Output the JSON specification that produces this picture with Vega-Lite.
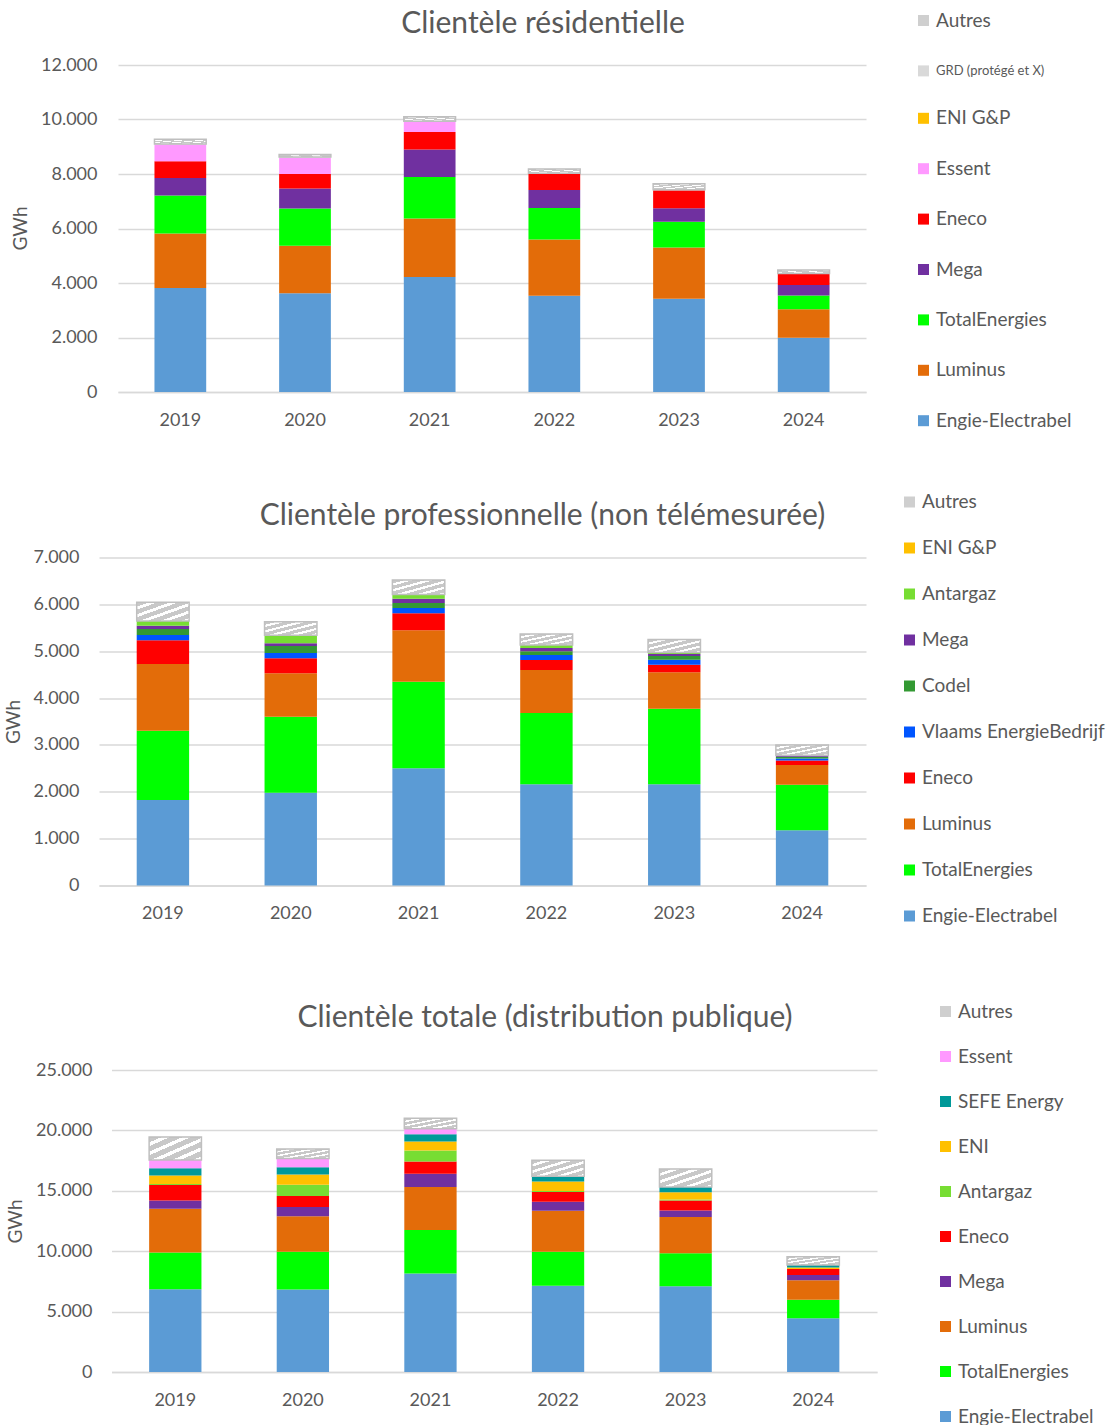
{
  "$schema": "https://vega.github.io/schema/vega-lite/v6.json",
  "padding": {"left": 4, "top": 8, "right": 5, "bottom": 0},
  "background": "white",
  "datasets": {
    "d": [
      {"c": 1, "an": "2019", "f": "Engie-Electrabel", "v": 3814},
      {"c": 1, "an": "2020", "f": "Engie-Electrabel", "v": 3620},
      {"c": 1, "an": "2021", "f": "Engie-Electrabel", "v": 4220},
      {"c": 1, "an": "2022", "f": "Engie-Electrabel", "v": 3530},
      {"c": 1, "an": "2023", "f": "Engie-Electrabel", "v": 3420},
      {"c": 1, "an": "2024", "f": "Engie-Electrabel", "v": 1990},
      {"c": 1, "an": "2019", "f": "Luminus", "v": 2000},
      {"c": 1, "an": "2020", "f": "Luminus", "v": 1750},
      {"c": 1, "an": "2021", "f": "Luminus", "v": 2150},
      {"c": 1, "an": "2022", "f": "Luminus", "v": 2070},
      {"c": 1, "an": "2023", "f": "Luminus", "v": 1880},
      {"c": 1, "an": "2024", "f": "Luminus", "v": 1050},
      {"c": 1, "an": "2019", "f": "TotalEnergies", "v": 1400},
      {"c": 1, "an": "2020", "f": "TotalEnergies", "v": 1360},
      {"c": 1, "an": "2021", "f": "TotalEnergies", "v": 1520},
      {"c": 1, "an": "2022", "f": "TotalEnergies", "v": 1150},
      {"c": 1, "an": "2023", "f": "TotalEnergies", "v": 950},
      {"c": 1, "an": "2024", "f": "TotalEnergies", "v": 500},
      {"c": 1, "an": "2019", "f": "Mega", "v": 640},
      {"c": 1, "an": "2020", "f": "Mega", "v": 740},
      {"c": 1, "an": "2021", "f": "Mega", "v": 1010},
      {"c": 1, "an": "2022", "f": "Mega", "v": 660},
      {"c": 1, "an": "2023", "f": "Mega", "v": 490},
      {"c": 1, "an": "2024", "f": "Mega", "v": 390},
      {"c": 1, "an": "2019", "f": "Eneco", "v": 610},
      {"c": 1, "an": "2020", "f": "Eneco", "v": 530},
      {"c": 1, "an": "2021", "f": "Eneco", "v": 640},
      {"c": 1, "an": "2022", "f": "Eneco", "v": 600},
      {"c": 1, "an": "2023", "f": "Eneco", "v": 660},
      {"c": 1, "an": "2024", "f": "Eneco", "v": 400},
      {"c": 1, "an": "2019", "f": "Essent", "v": 620},
      {"c": 1, "an": "2020", "f": "Essent", "v": 600},
      {"c": 1, "an": "2021", "f": "Essent", "v": 380},
      {"c": 1, "an": "2019", "f": "GRD (protégé et X)", "v": 20},
      {"c": 1, "an": "2020", "f": "GRD (protégé et X)", "v": 20},
      {"c": 1, "an": "2021", "f": "GRD (protégé et X)", "v": 20},
      {"c": 1, "an": "2022", "f": "GRD (protégé et X)", "v": 20},
      {"c": 1, "an": "2023", "f": "GRD (protégé et X)", "v": 20},
      {"c": 1, "an": "2024", "f": "GRD (protégé et X)", "v": 20},
      {"c": 1, "an": "2019", "f": "Autres", "v": 170},
      {"c": 1, "an": "2020", "f": "Autres", "v": 100},
      {"c": 1, "an": "2021", "f": "Autres", "v": 160},
      {"c": 1, "an": "2022", "f": "Autres", "v": 150},
      {"c": 1, "an": "2023", "f": "Autres", "v": 220},
      {"c": 1, "an": "2024", "f": "Autres", "v": 130},

      {"c": 2, "an": "2019", "f": "Engie-Electrabel", "v": 1825},
      {"c": 2, "an": "2020", "f": "Engie-Electrabel", "v": 1980},
      {"c": 2, "an": "2021", "f": "Engie-Electrabel", "v": 2500},
      {"c": 2, "an": "2022", "f": "Engie-Electrabel", "v": 2160},
      {"c": 2, "an": "2023", "f": "Engie-Electrabel", "v": 2160},
      {"c": 2, "an": "2024", "f": "Engie-Electrabel", "v": 1180},
      {"c": 2, "an": "2019", "f": "TotalEnergies", "v": 1480},
      {"c": 2, "an": "2020", "f": "TotalEnergies", "v": 1620},
      {"c": 2, "an": "2021", "f": "TotalEnergies", "v": 1850},
      {"c": 2, "an": "2022", "f": "TotalEnergies", "v": 1520},
      {"c": 2, "an": "2023", "f": "TotalEnergies", "v": 1610},
      {"c": 2, "an": "2024", "f": "TotalEnergies", "v": 970},
      {"c": 2, "an": "2019", "f": "Luminus", "v": 1420},
      {"c": 2, "an": "2020", "f": "Luminus", "v": 930},
      {"c": 2, "an": "2021", "f": "Luminus", "v": 1100},
      {"c": 2, "an": "2022", "f": "Luminus", "v": 920},
      {"c": 2, "an": "2023", "f": "Luminus", "v": 780},
      {"c": 2, "an": "2024", "f": "Luminus", "v": 420},
      {"c": 2, "an": "2019", "f": "Eneco", "v": 510},
      {"c": 2, "an": "2020", "f": "Eneco", "v": 320},
      {"c": 2, "an": "2021", "f": "Eneco", "v": 360},
      {"c": 2, "an": "2022", "f": "Eneco", "v": 210},
      {"c": 2, "an": "2023", "f": "Eneco", "v": 160},
      {"c": 2, "an": "2024", "f": "Eneco", "v": 100},
      {"c": 2, "an": "2019", "f": "Vlaams EnergieBedrijf", "v": 110},
      {"c": 2, "an": "2020", "f": "Vlaams EnergieBedrijf", "v": 110},
      {"c": 2, "an": "2021", "f": "Vlaams EnergieBedrijf", "v": 110},
      {"c": 2, "an": "2022", "f": "Vlaams EnergieBedrijf", "v": 110},
      {"c": 2, "an": "2023", "f": "Vlaams EnergieBedrijf", "v": 110},
      {"c": 2, "an": "2024", "f": "Vlaams EnergieBedrijf", "v": 40},
      {"c": 2, "an": "2019", "f": "Codel", "v": 130},
      {"c": 2, "an": "2020", "f": "Codel", "v": 150},
      {"c": 2, "an": "2021", "f": "Codel", "v": 110},
      {"c": 2, "an": "2022", "f": "Codel", "v": 80},
      {"c": 2, "an": "2023", "f": "Codel", "v": 80},
      {"c": 2, "an": "2024", "f": "Codel", "v": 40},
      {"c": 2, "an": "2019", "f": "Mega", "v": 70},
      {"c": 2, "an": "2020", "f": "Mega", "v": 60},
      {"c": 2, "an": "2021", "f": "Mega", "v": 90},
      {"c": 2, "an": "2022", "f": "Mega", "v": 70},
      {"c": 2, "an": "2023", "f": "Mega", "v": 40},
      {"c": 2, "an": "2024", "f": "Mega", "v": 30},
      {"c": 2, "an": "2019", "f": "Antargaz", "v": 100},
      {"c": 2, "an": "2020", "f": "Antargaz", "v": 170},
      {"c": 2, "an": "2021", "f": "Antargaz", "v": 90},
      {"c": 2, "an": "2022", "f": "Antargaz", "v": 60},
      {"c": 2, "an": "2023", "f": "Antargaz", "v": 30},
      {"c": 2, "an": "2019", "f": "Autres", "v": 400},
      {"c": 2, "an": "2020", "f": "Autres", "v": 290},
      {"c": 2, "an": "2021", "f": "Autres", "v": 310},
      {"c": 2, "an": "2022", "f": "Autres", "v": 240},
      {"c": 2, "an": "2023", "f": "Autres", "v": 280},
      {"c": 2, "an": "2024", "f": "Autres", "v": 220},

      {"c": 3, "an": "2019", "f": "Engie-Electrabel", "v": 6850},
      {"c": 3, "an": "2020", "f": "Engie-Electrabel", "v": 6820},
      {"c": 3, "an": "2021", "f": "Engie-Electrabel", "v": 8160},
      {"c": 3, "an": "2022", "f": "Engie-Electrabel", "v": 7130},
      {"c": 3, "an": "2023", "f": "Engie-Electrabel", "v": 7100},
      {"c": 3, "an": "2024", "f": "Engie-Electrabel", "v": 4440},
      {"c": 3, "an": "2019", "f": "TotalEnergies", "v": 3050},
      {"c": 3, "an": "2020", "f": "TotalEnergies", "v": 3140},
      {"c": 3, "an": "2021", "f": "TotalEnergies", "v": 3600},
      {"c": 3, "an": "2022", "f": "TotalEnergies", "v": 2830},
      {"c": 3, "an": "2023", "f": "TotalEnergies", "v": 2720},
      {"c": 3, "an": "2024", "f": "TotalEnergies", "v": 1550},
      {"c": 3, "an": "2019", "f": "Luminus", "v": 3610},
      {"c": 3, "an": "2020", "f": "Luminus", "v": 2940},
      {"c": 3, "an": "2021", "f": "Luminus", "v": 3550},
      {"c": 3, "an": "2022", "f": "Luminus", "v": 3380},
      {"c": 3, "an": "2023", "f": "Luminus", "v": 3020},
      {"c": 3, "an": "2024", "f": "Luminus", "v": 1610},
      {"c": 3, "an": "2019", "f": "Mega", "v": 690},
      {"c": 3, "an": "2020", "f": "Mega", "v": 750},
      {"c": 3, "an": "2021", "f": "Mega", "v": 1110},
      {"c": 3, "an": "2022", "f": "Mega", "v": 750},
      {"c": 3, "an": "2023", "f": "Mega", "v": 530},
      {"c": 3, "an": "2024", "f": "Mega", "v": 440},
      {"c": 3, "an": "2019", "f": "Eneco", "v": 1280},
      {"c": 3, "an": "2020", "f": "Eneco", "v": 910},
      {"c": 3, "an": "2021", "f": "Eneco", "v": 1000},
      {"c": 3, "an": "2022", "f": "Eneco", "v": 810},
      {"c": 3, "an": "2023", "f": "Eneco", "v": 830},
      {"c": 3, "an": "2024", "f": "Eneco", "v": 480},
      {"c": 3, "an": "2019", "f": "Antargaz", "v": 80},
      {"c": 3, "an": "2020", "f": "Antargaz", "v": 950},
      {"c": 3, "an": "2021", "f": "Antargaz", "v": 920},
      {"c": 3, "an": "2022", "f": "Antargaz", "v": 80},
      {"c": 3, "an": "2023", "f": "Antargaz", "v": 90},
      {"c": 3, "an": "2019", "f": "ENI", "v": 700},
      {"c": 3, "an": "2020", "f": "ENI", "v": 830},
      {"c": 3, "an": "2021", "f": "ENI", "v": 740},
      {"c": 3, "an": "2022", "f": "ENI", "v": 780},
      {"c": 3, "an": "2023", "f": "ENI", "v": 580},
      {"c": 3, "an": "2024", "f": "ENI", "v": 130},
      {"c": 3, "an": "2019", "f": "SEFE Energy", "v": 610},
      {"c": 3, "an": "2020", "f": "SEFE Energy", "v": 610},
      {"c": 3, "an": "2021", "f": "SEFE Energy", "v": 610},
      {"c": 3, "an": "2022", "f": "SEFE Energy", "v": 440},
      {"c": 3, "an": "2023", "f": "SEFE Energy", "v": 440},
      {"c": 3, "an": "2024", "f": "SEFE Energy", "v": 200},
      {"c": 3, "an": "2019", "f": "Essent", "v": 690},
      {"c": 3, "an": "2020", "f": "Essent", "v": 720},
      {"c": 3, "an": "2021", "f": "Essent", "v": 450},
      {"c": 3, "an": "2019", "f": "Autres", "v": 1890},
      {"c": 3, "an": "2020", "f": "Autres", "v": 800},
      {"c": 3, "an": "2021", "f": "Autres", "v": 860},
      {"c": 3, "an": "2022", "f": "Autres", "v": 1330},
      {"c": 3, "an": "2023", "f": "Autres", "v": 1500},
      {"c": 3, "an": "2024", "f": "Autres", "v": 690}
    ]
  },
  "spacing": 75,
  "resolve": {"scale": {"color": "independent", "x": "independent", "y": "independent"}, "legend": {"color": "independent"}},
  "vconcat": [
    {
      "spacing": 61.5,
      "resolve": {"scale": {"color": "independent", "x": "independent", "y": "independent"}, "legend": {"color": "independent"}},
      "vconcat": [
        {
          "title": {"text": "Clientèle résidentielle", "dx": 60, "offset": -27.5},
          "width": 768,
          "height": 327,
          "data": {"name": "d"},
          "transform": [
            {"filter": "datum.c == 1"},
            {"calculate": "indexof(['Autres', 'GRD (protégé et X)', 'ENI G&P', 'Essent', 'Eneco', 'Mega', 'TotalEnergies', 'Luminus', 'Engie-Electrabel'], datum.f)", "as": "rang"}
          ],
          "mark": {"type": "bar", "stroke": "#bfbfbf"},
          "encoding": {
            "x": {"field": "an", "type": "ordinal", "title": null,
              "scale": {"range": [19, 767], "paddingInner": 0.585, "paddingOuter": 0.2925}},
            "y": {"field": "v", "type": "quantitative", "stack": "zero",
              "scale": {"domain": [0, 12000]},
              "axis": {"values": [0, 2000, 4000, 6000, 8000, 10000, 12000], "format": ",.0f", "title": "GWh", "labelPadding": 2, "titleX": -79, "titleY": 163}},
            "color": {
              "condition": {"test": "datum.f === 'Autres'", "value": {"gradient": "linear", "x1": 0, "y1": 0, "x2": 1, "y2": 1, "stops": [
                {"offset": 0, "color": "#c8c8c8"}, {"offset": 0.12, "color": "#c8c8c8"}, {"offset": 0.12, "color": "#ffffff"}, {"offset": 0.2, "color": "#ffffff"},
                {"offset": 0.2, "color": "#c8c8c8"}, {"offset": 0.32, "color": "#c8c8c8"}, {"offset": 0.32, "color": "#ffffff"}, {"offset": 0.4, "color": "#ffffff"},
                {"offset": 0.4, "color": "#c8c8c8"}, {"offset": 0.52, "color": "#c8c8c8"}, {"offset": 0.52, "color": "#ffffff"}, {"offset": 0.6, "color": "#ffffff"},
                {"offset": 0.6, "color": "#c8c8c8"}, {"offset": 0.72, "color": "#c8c8c8"}, {"offset": 0.72, "color": "#ffffff"}, {"offset": 0.8, "color": "#ffffff"},
                {"offset": 0.8, "color": "#c8c8c8"}, {"offset": 0.92, "color": "#c8c8c8"}, {"offset": 0.92, "color": "#ffffff"}, {"offset": 1, "color": "#ffffff"}]}},
              "field": "f", "type": "nominal",
              "scale": {
                "domain": ["Autres", "GRD (protégé et X)", "ENI G&P", "Essent", "Eneco", "Mega", "TotalEnergies", "Luminus", "Engie-Electrabel"],
                "range": ["#cfcfcf", "#d9d9d9", "#ffc000", "#ff99ff", "#ff0000", "#7030a0", "#00ff00", "#e36c09", "#5b9bd5"]},
              "legend": {"legendX": 815, "legendY": -54, "rowPadding": 30.4,
                "labelFontSize": {"expr": "datum.label === 'GRD (protégé et X)' ? 13 : 19"}}},
            "order": {"field": "rang", "sort": "descending"},
            "strokeWidth": {"condition": {"test": "datum.f === 'Autres'", "value": 1.5}, "value": 0}
          }
        },
        {
          "title": {"text": "Clientèle professionnelle (non télémesurée)", "dx": 60, "offset": -38.5},
          "width": 767,
          "height": 328,
          "data": {"name": "d"},
          "transform": [
            {"filter": "datum.c == 2"},
            {"calculate": "indexof(['Autres', 'ENI G&P', 'Antargaz', 'Mega', 'Codel', 'Vlaams EnergieBedrijf', 'Eneco', 'Luminus', 'TotalEnergies', 'Engie-Electrabel'], datum.f)", "as": "rang"}
          ],
          "mark": {"type": "bar", "stroke": "#bfbfbf"},
          "encoding": {
            "x": {"field": "an", "type": "ordinal", "title": null,
              "scale": {"range": [0, 767], "paddingInner": 0.59, "paddingOuter": 0.295}},
            "y": {"field": "v", "type": "quantitative", "stack": "zero",
              "scale": {"domain": [0, 7000]},
              "axis": {"values": [0, 1000, 2000, 3000, 4000, 5000, 6000, 7000], "format": ",.0f", "title": "GWh", "labelPadding": 20, "titleX": -86, "titleY": 164}},
            "color": {
              "condition": {"test": "datum.f === 'Autres'", "value": {"gradient": "linear", "x1": 0, "y1": 0, "x2": 1, "y2": 1, "stops": [
                {"offset": 0, "color": "#c8c8c8"}, {"offset": 0.12, "color": "#c8c8c8"}, {"offset": 0.12, "color": "#ffffff"}, {"offset": 0.2, "color": "#ffffff"},
                {"offset": 0.2, "color": "#c8c8c8"}, {"offset": 0.32, "color": "#c8c8c8"}, {"offset": 0.32, "color": "#ffffff"}, {"offset": 0.4, "color": "#ffffff"},
                {"offset": 0.4, "color": "#c8c8c8"}, {"offset": 0.52, "color": "#c8c8c8"}, {"offset": 0.52, "color": "#ffffff"}, {"offset": 0.6, "color": "#ffffff"},
                {"offset": 0.6, "color": "#c8c8c8"}, {"offset": 0.72, "color": "#c8c8c8"}, {"offset": 0.72, "color": "#ffffff"}, {"offset": 0.8, "color": "#ffffff"},
                {"offset": 0.8, "color": "#c8c8c8"}, {"offset": 0.92, "color": "#c8c8c8"}, {"offset": 0.92, "color": "#ffffff"}, {"offset": 1, "color": "#ffffff"}]}},
              "field": "f", "type": "nominal",
              "scale": {
                "domain": ["Autres", "ENI G&P", "Antargaz", "Mega", "Codel", "Vlaams EnergieBedrijf", "Eneco", "Luminus", "TotalEnergies", "Engie-Electrabel"],
                "range": ["#cfcfcf", "#ffc000", "#77dd33", "#7030a0", "#339933", "#0055ff", "#ff0000", "#e36c09", "#00ff00", "#5b9bd5"]},
              "legend": {"legendX": 801, "legendY": -65, "rowPadding": 26}},
            "order": {"field": "rang", "sort": "descending"},
            "strokeWidth": {"condition": {"test": "datum.f === 'Autres'", "value": 1.5}, "value": 0}
          }
        }
      ]
    },
    {
      "title": {"text": "Clientèle totale (distribution publique)", "dx": 57, "offset": -30.5},
      "width": 778,
      "height": 302,
      "data": {"name": "d"},
      "transform": [
        {"filter": "datum.c == 3"},
        {"calculate": "indexof(['Autres', 'Essent', 'SEFE Energy', 'ENI', 'Antargaz', 'Eneco', 'Mega', 'Luminus', 'TotalEnergies', 'Engie-Electrabel'], datum.f)", "as": "rang"}
      ],
      "mark": {"type": "bar", "stroke": "#bfbfbf"},
      "encoding": {
        "x": {"field": "an", "type": "ordinal", "title": null,
          "scale": {"range": [12.5, 778], "paddingInner": 0.59, "paddingOuter": 0.295}},
        "y": {"field": "v", "type": "quantitative", "stack": "zero",
          "scale": {"domain": [0, 25000]},
          "axis": {"values": [0, 5000, 10000, 15000, 20000, 25000], "format": ",.0f", "title": "GWh", "labelPadding": 7, "titleX": -84, "titleY": 151}},
        "color": {
          "condition": {"test": "datum.f === 'Autres'", "value": {"gradient": "linear", "x1": 0, "y1": 0, "x2": 1, "y2": 1, "stops": [
            {"offset": 0, "color": "#c8c8c8"}, {"offset": 0.12, "color": "#c8c8c8"}, {"offset": 0.12, "color": "#ffffff"}, {"offset": 0.2, "color": "#ffffff"},
            {"offset": 0.2, "color": "#c8c8c8"}, {"offset": 0.32, "color": "#c8c8c8"}, {"offset": 0.32, "color": "#ffffff"}, {"offset": 0.4, "color": "#ffffff"},
            {"offset": 0.4, "color": "#c8c8c8"}, {"offset": 0.52, "color": "#c8c8c8"}, {"offset": 0.52, "color": "#ffffff"}, {"offset": 0.6, "color": "#ffffff"},
            {"offset": 0.6, "color": "#c8c8c8"}, {"offset": 0.72, "color": "#c8c8c8"}, {"offset": 0.72, "color": "#ffffff"}, {"offset": 0.8, "color": "#ffffff"},
            {"offset": 0.8, "color": "#c8c8c8"}, {"offset": 0.92, "color": "#c8c8c8"}, {"offset": 0.92, "color": "#ffffff"}, {"offset": 1, "color": "#ffffff"}]}},
          "field": "f", "type": "nominal",
          "scale": {
            "domain": ["Autres", "Essent", "SEFE Energy", "ENI", "Antargaz", "Eneco", "Mega", "Luminus", "TotalEnergies", "Engie-Electrabel"],
            "range": ["#cfcfcf", "#ff99ff", "#009999", "#ffc000", "#77dd33", "#ff0000", "#7030a0", "#e36c09", "#00ff00", "#5b9bd5"]},
          "legend": {"legendX": 837, "legendY": -68, "rowPadding": 25}},
        "order": {"field": "rang", "sort": "descending"},
        "strokeWidth": {"condition": {"test": "datum.f === 'Autres'", "value": 1.5}, "value": 0}
      }
    }
  ],
  "config": {
    "locale": {"number": {"decimal": ",", "thousands": ".", "grouping": [3], "currency": ["", " €"]}},
    "font": "Lato",
    "view": {"stroke": null},
    "title": {"font": "Lato", "fontSize": 30, "fontWeight": "normal", "color": "#595959", "anchor": "middle", "frame": "group"},
    "axis": {
      "labelFont": "Lato", "labelFontSize": 18, "labelColor": "#595959",
      "titleFont": "Lato", "titleFontSize": 19, "titleColor": "#595959", "titleFontWeight": "normal",
      "ticks": false, "gridColor": "#d9d9d9", "gridWidth": 1.5, "domainColor": "#d9d9d9", "domainWidth": 1.5
    },
    "axisY": {"domain": false, "titleAngle": -90, "titleAlign": "center", "titleBaseline": "middle"},
    "axisX": {"grid": false, "labelAngle": 0, "labelPadding": 19},
    "legend": {
      "orient": "none", "title": null, "padding": 0,
      "symbolType": "square", "symbolSize": 121, "symbolStrokeWidth": 0,
      "labelFont": "Lato", "labelFontSize": 19, "labelColor": "#595959", "labelOffset": 3,
      "labelLimit": 300
    }
  }
}
